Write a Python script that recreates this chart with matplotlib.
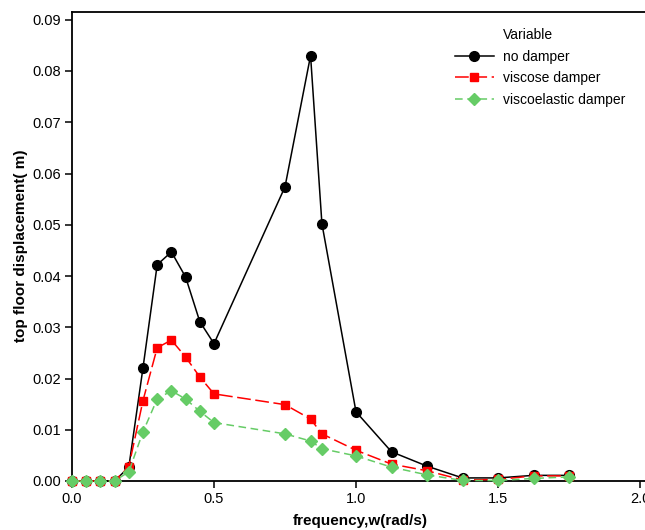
import matplotlib
matplotlib.use("Agg")
import matplotlib.pyplot as plt

freq = [0, 0.05, 0.1, 0.15, 0.2, 0.25, 0.3, 0.35, 0.4, 0.45, 0.5, 0.75, 0.84, 0.88,
        1.0, 1.125, 1.25, 1.375, 1.5, 1.625, 1.75]
no_damper = [0, 0, 0, 0, 0.0027, 0.0221, 0.0422, 0.0447, 0.0398, 0.0311, 0.0268, 0.0574,
             0.0830, 0.0502, 0.0135, 0.0057, 0.0029, 0.0006, 0.0006, 0.0011, 0.0011]
viscose = [0, 0, 0, 0, 0.0028, 0.0157, 0.0260, 0.0275, 0.0242, 0.0203, 0.0170, 0.0149,
           0.0121, 0.0092, 0.0060, 0.0033, 0.0020, 0.0002, 0.0003, 0.0010, 0.0010]
viscoelastic = [0, 0, 0, 0, 0.0018, 0.0096, 0.0160, 0.0176, 0.0160, 0.0136, 0.0114, 0.0092,
                0.0078, 0.0063, 0.0049, 0.0027, 0.0012, 0.0001, 0.0001, 0.0005, 0.0008]
xticks = [0.0, 0.5, 1.0, 1.5, 2.0]
yticks = [0.00, 0.01, 0.02, 0.03, 0.04, 0.05, 0.06, 0.07, 0.08, 0.09]

plt.rcParams['font.family'] = ['Liberation Sans', 'DejaVu Sans']

fig = plt.figure(figsize=(6.45, 5.30), dpi=100)
W, H = 645, 530
x0 = 72; xpx_per = 284
y0 = 481; ytop = 12
xmax = 2.06
ax = fig.add_axes([x0 / W, 1 - y0 / H, xmax * xpx_per / W, (y0 - ytop) / H])

ax.plot(freq, no_damper, color='black', marker='o', markersize=7, lw=1.1,
        label='no damper', clip_on=False, zorder=3)
ax.plot(freq, viscose, color='#ff0000', marker='s', markersize=6, lw=1.1,
        linestyle=(0, (9, 3)), label='viscose damper', clip_on=False, zorder=4)
ax.plot(freq, viscoelastic, color='#66cc66', marker='D', markersize=6.5, lw=1.1,
        linestyle=(0, (5, 3)), label='viscoelastic damper', clip_on=False, zorder=5)

ax.set_xlim(0, xmax)
ax.set_ylim(0, (y0 - ytop) / 51.25 * 0.01)
ax.set_xticks(xticks)
ax.set_xticklabels([f"{t:.1f}" for t in xticks])
ax.set_yticks(yticks)
ax.set_yticklabels([f"{t:.2f}" for t in yticks])
ax.spines['right'].set_visible(False)
for s in ax.spines.values():
    s.set_linewidth(1.3)
ax.tick_params(direction='out', length=5, width=1.1, labelsize=10.5, pad=3)

fig.text(21 / W, 1 - 246 / H, 'top floor displacement( m)', fontweight='bold', fontsize=11,
         ha='center', va='center', rotation=90)
fig.text(360 / W, 1 - 521 / H, 'frequency,w(rad/s)', fontweight='bold', fontsize=11,
         ha='center', va='center')

leg = ax.legend(title='Variable', loc='upper left', bbox_to_anchor=(448 / W, 1 - 21 / H),
                bbox_transform=fig.transFigure, frameon=False, fontsize=10,
                title_fontsize=10, handlelength=2.8, labelspacing=0.55,
                handletextpad=0.65, borderpad=0)
leg._legend_box.align = 'left'
leg.get_title().set_position((48, 0))

fig.savefig('out.png', dpi=100)
